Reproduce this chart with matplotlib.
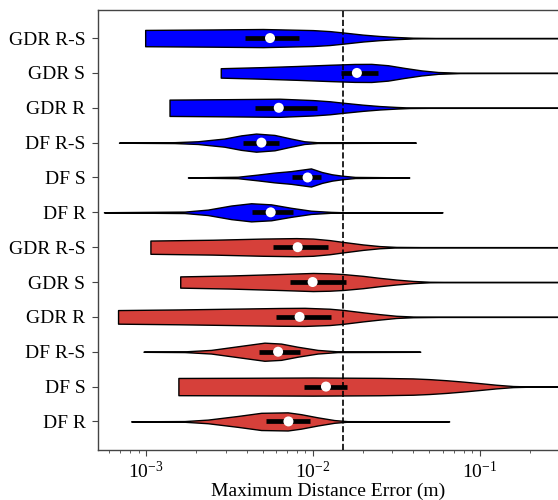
import matplotlib
matplotlib.use("Agg")  # no display
import matplotlib.pyplot as plt
import numpy as np

plt.rcParams["font.family"] = ["Liberation Serif", "DejaVu Serif"]
plt.rcParams["mathtext.fontset"] = "stix"

# categories, bottom to top
labels = ["DF R", "DF S", "DF R-S", "GDR R", "GDR S", "GDR R-S",
          "DF R", "DF S", "DF R-S", "GDR R", "GDR S", "GDR R-S"]
colors = ["#d6403a"] * 6 + ["#0000ff"] * 6

# quartiles and medians of the maximum distance error (m)
q1 = [0.00524, 0.00879, 0.00475, 0.0060, 0.00732, 0.00574,
      0.0043, 0.00745, 0.00383, 0.0045, 0.0148, 0.00394]
medians = [0.00713, 0.01197, 0.00618, 0.00832, 0.00996, 0.0081,
           0.00558, 0.00929, 0.00491, 0.00624, 0.01835, 0.00553]
q3 = [0.00955, 0.0159, 0.00836, 0.0128, 0.0158, 0.01236,
      0.00755, 0.01116, 0.00624, 0.0106, 0.0244, 0.00824]

threshold = 0.0151

# violin outlines: error (m) and relative density
red_df_r_x = [0.000813, 0.0017, 0.00234, 0.00354, 0.00489, 0.00706, 0.00847, 0.01067, 0.01343, 0.01614, 0.0656]
red_df_r_w = [0.01, 0.04, 0.2, 0.6, 0.95, 1.0, 0.8, 0.45, 0.15, 0.03, 0.01]
red_df_s_x = [0.00156, 0.00398, 0.01, 0.0251, 0.0398, 0.0501, 0.0631, 0.0794, 0.1, 0.1259, 0.1585, 0.1995, 0.5]
red_df_s_w = [0.95, 0.97, 1.0, 0.96, 0.9, 0.82, 0.7, 0.55, 0.38, 0.2, 0.06, 0.015, 0.005]
red_df_rs_x = [0.000964, 0.0017, 0.00245, 0.00354, 0.00512, 0.00643, 0.00809, 0.01067, 0.01406, 0.044]
red_df_rs_w = [0.01, 0.04, 0.2, 0.6, 1.0, 0.9, 0.55, 0.2, 0.04, 0.01]
red_gdr_r_x = [0.000678, 0.00158, 0.00316, 0.00631, 0.00891, 0.01259, 0.01514, 0.01995, 0.02512, 0.03162, 0.03981, 0.05623, 0.5]
red_gdr_r_w = [0.75, 0.82, 0.9, 0.98, 1.0, 0.9, 0.77, 0.5, 0.3, 0.12, 0.04, 0.01, 0.005]
red_gdr_s_x = [0.0016, 0.00316, 0.00631, 0.01, 0.01259, 0.01514, 0.01995, 0.02512, 0.03162, 0.03981, 0.0501, 0.0708, 0.5]
red_gdr_s_w = [0.62, 0.72, 0.88, 1.0, 0.96, 0.88, 0.68, 0.46, 0.27, 0.12, 0.03, 0.01, 0.005]
red_gdr_rs_x = [0.00106, 0.00251, 0.00501, 0.00794, 0.01, 0.01259, 0.01514, 0.01995, 0.02512, 0.03162, 0.04467, 0.5]
red_gdr_rs_w = [0.73, 0.82, 0.95, 1.0, 0.95, 0.78, 0.58, 0.3, 0.12, 0.03, 0.01, 0.005]

blue_df_r_x = [0.000558, 0.0017, 0.00234, 0.00323, 0.00426, 0.00561, 0.00738, 0.00973, 0.01282, 0.0151, 0.0598]
blue_df_r_w = [0.01, 0.08, 0.3, 0.75, 1.0, 0.88, 0.5, 0.18, 0.05, 0.01, 0.01]
blue_df_s_x = [0.00178, 0.00354, 0.00467, 0.00588, 0.00738, 0.00973, 0.01132, 0.0130, 0.0149, 0.0179, 0.0378]
blue_df_s_w = [0.01, 0.08, 0.32, 0.54, 0.7, 1.0, 0.6, 0.35, 0.2, 0.06, 0.01]
blue_df_rs_x = [0.000687, 0.00148, 0.00204, 0.00294, 0.00371, 0.00456, 0.00588, 0.00738, 0.00887, 0.01067, 0.0414]
blue_df_rs_w = [0.01, 0.05, 0.15, 0.45, 0.8, 1.0, 0.85, 0.45, 0.15, 0.04, 0.01]
blue_gdr_r_x = [0.00138, 0.00316, 0.00631, 0.01, 0.01259, 0.01514, 0.01995, 0.02512, 0.03162, 0.038, 0.0501, 0.5]
blue_gdr_r_w = [0.9, 0.95, 1.0, 0.85, 0.72, 0.56, 0.34, 0.19, 0.09, 0.03, 0.01, 0.005]
blue_gdr_s_x = [0.0028, 0.00501, 0.00794, 0.01259, 0.01778, 0.02239, 0.02818, 0.03548, 0.04467, 0.05623, 0.0759, 0.5]
blue_gdr_s_w = [0.52, 0.64, 0.76, 0.9, 0.99, 1.0, 0.85, 0.55, 0.28, 0.1, 0.02, 0.005]
blue_gdr_rs_x = [0.000986, 0.00251, 0.00501, 0.01, 0.01259, 0.01514, 0.01995, 0.02512, 0.03162, 0.03981, 0.05623, 0.5]
blue_gdr_rs_w = [0.9, 0.95, 1.0, 0.88, 0.77, 0.62, 0.38, 0.23, 0.12, 0.04, 0.01, 0.005]

profiles = [
    (red_df_r_x, red_df_r_w), (red_df_s_x, red_df_s_w), (red_df_rs_x, red_df_rs_w),
    (red_gdr_r_x, red_gdr_r_w), (red_gdr_s_x, red_gdr_s_w), (red_gdr_rs_x, red_gdr_rs_w),
    (blue_df_r_x, blue_df_r_w), (blue_df_s_x, blue_df_s_w), (blue_df_rs_x, blue_df_rs_w),
    (blue_gdr_r_x, blue_gdr_r_w), (blue_gdr_s_x, blue_gdr_s_w), (blue_gdr_rs_x, blue_gdr_rs_w),
]

vpstats = []
for (xs, ws), med in zip(profiles, medians):
    vpstats.append({
        "coords": np.array(xs),
        "vals": np.array(ws),
        "mean": med,
        "median": med,
        "min": xs[0],
        "max": xs[-1],
    })

positions = np.arange(1, len(labels) + 1)

fig = plt.figure(figsize=(5.58, 5.0), dpi=100)
ax = fig.add_axes([98 / 558, 0.1, 1 - 98 / 558, 0.881])

parts = ax.violin(vpstats, positions=positions, orientation="horizontal", widths=0.52,
                  showmeans=False, showextrema=False, showmedians=False)
for body, c in zip(parts["bodies"], colors):
    body.set_facecolor(c)
    body.set_edgecolor("black")
    body.set_linewidth(1.0)
    body.set_alpha(1)

ax.hlines(positions, q1, q3, color="black", lw=3.4, zorder=3)
ax.scatter(medians, positions, s=52, color="white", zorder=4, edgecolors="none")
ax.axvline(threshold, color="black", ls="--", lw=1.2, zorder=5)

ax.set_xscale("log")
ax.set_xlim(5.14e-4, 0.295)
ax.set_ylim(0.18, 12.82)
ax.set_yticks(positions)
ax.set_yticklabels(labels)
ax.tick_params(axis="both", labelsize=14, length=4, color="#444444")
ax.tick_params(axis="y", pad=5)
ax.tick_params(axis="x", which="minor", length=2.5, color="#444444")
ax.set_xlabel("Maximum Distance Error (m)", fontsize=14, labelpad=1)

for side in ["left", "bottom", "top"]:
    ax.spines[side].set_color("#444444")
    ax.spines[side].set_linewidth(1.0)
ax.spines["right"].set_visible(False)

fig.savefig("out.png", dpi=100)
plt.close(fig)
